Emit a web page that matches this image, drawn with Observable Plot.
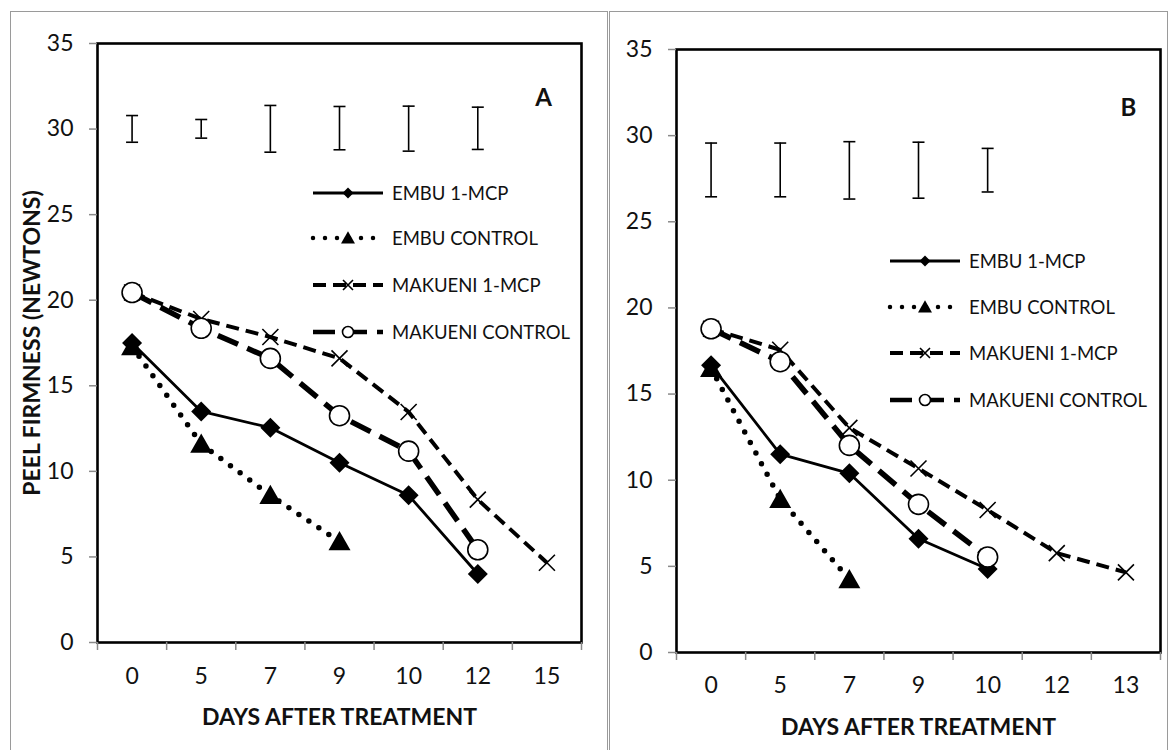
<!DOCTYPE html>
<html>
<head>
<meta charset="utf-8">
<script src="https://cdn.jsdelivr.net/npm/d3@7"></script>
<script src="https://cdn.jsdelivr.net/npm/@observablehq/plot@0.6"></script>
<style>
  html, body { margin: 0; padding: 0; background: #fff; }
  body { width: 1170px; height: 750px; position: relative; overflow: hidden; font-family: Lato, "Open Sans", sans-serif; }
  .box { position: absolute; top: 11px; height: 780px; border: 1.5px solid #9a9a9a; border-bottom: none; box-sizing: border-box; }
  .panel { position: absolute; top: 0; }
</style>
</head>
<body>
<div class="box" style="left:10px;width:598px"></div>
<div class="box" style="left:609px;width:559px"></div>
<div id="panelA" class="panel" style="left:0px"></div>
<div id="panelB" class="panel" style="left:600px"></div>
<script>
// ---------- data ----------
const seriesNames = ["EMBU 1-MCP", "EMBU CONTROL", "MAKUENI 1-MCP", "MAKUENI CONTROL"];
const yTicks = [0, 5, 10, 15, 20, 25, 30, 35];

// Panel A
const daysA = ["0", "5", "7", "9", "10", "12", "15"];
const embu1mcpA = [17.5, 13.5, 12.55, 10.5, 8.6, 4.0];
const embuControlA = [17.3, 11.6, 8.6, 5.9];
const makueni1mcpA = [20.45, 18.9, 17.85, 16.6, 13.47, 8.35, 4.66];
const makueniControlA = [20.45, 18.36, 16.6, 13.25, 11.18, 5.42];
const errLowA = [29.23, 29.47, 28.65, 28.79, 28.71, 28.81];
const errHighA = [30.79, 30.56, 31.38, 31.32, 31.34, 31.28];

// Panel B
const daysB = ["0", "5", "7", "9", "10", "12", "13"];
const embu1mcpB = [16.68, 11.51, 10.4, 6.6, 4.85];
const embuControlB = [16.5, 8.9, 4.24];
const makueni1mcpB = [18.79, 17.57, 13.04, 10.68, 8.27, 5.77, 4.65];
const makueniControlB = [18.79, 16.88, 12.02, 8.6, 5.54];
const errLowB = [26.45, 26.45, 26.32, 26.37, 26.73];
const errHighB = [29.57, 29.57, 29.65, 29.62, 29.26];

// ---------- symbols ----------
const diamondSym = {draw(ctx, size) { const r = Math.sqrt(size / Math.PI);
  ctx.moveTo(0, -r); ctx.lineTo(r, 0); ctx.lineTo(0, r); ctx.lineTo(-r, 0); ctx.closePath(); }};
const triangleSym = {draw(ctx, size) { const r = Math.sqrt(size / Math.PI);
  ctx.moveTo(0, -0.95 * r); ctx.lineTo(r, 0.8 * r); ctx.lineTo(-r, 0.8 * r); ctx.closePath(); }};
const timesSym = {draw(ctx, size) { const r = Math.sqrt(size / Math.PI);
  ctx.moveTo(-r, -r); ctx.lineTo(r, r); ctx.moveTo(r, -r); ctx.lineTo(-r, r); }};
const circleSym = {draw(ctx, size) { const r = Math.sqrt(size / Math.PI);
  ctx.moveTo(r, 0); ctx.arc(0, 0, r, 0, 2 * Math.PI); }};
const capSym = {draw(ctx, size) { const r = Math.sqrt(size / Math.PI);
  ctx.moveTo(-r, 0); ctx.lineTo(r, 0); }};

const styles = [
  {lineWidth: 2.8, dash: null, cap: "butt", symbol: diamondSym, r: 10, fill: "#000", stroke: "none", mStroke: 0, lr: 5.5},
  {lineWidth: 5.5, dash: "0 12", cap: "round", symbol: triangleSym, r: 11, fill: "#000", stroke: "none", mStroke: 0, lr: 7},
  {lineWidth: 4, dash: "13 7", cap: "butt", symbol: timesSym, r: 8, fill: "none", stroke: "#000", mStroke: 1.6, lr: 5},
  {lineWidth: 5.5, dash: "22 10", cap: "butt", symbol: circleSym, r: 10, fill: "#fff", stroke: "#000", mStroke: 1.6, lr: 5.5}
];

function rows(values) { return values.map((v, i) => ({i, v})); }

function panel(cfg) {
  const n = cfg.days.length;
  const series = cfg.series;
  const marks = [];
  // error bars
  const err = cfg.errLow.map((lo, i) => ({i, lo, hi: cfg.errHigh[i]}));
  marks.push(Plot.ruleX(err, {x: "i", y1: "lo", y2: "hi", stroke: "#000", strokeWidth: 1.6}));
  marks.push(Plot.dot(err, {x: "i", y: "lo", symbol: capSym, r: 6, stroke: "#000", strokeWidth: 1.6, fill: "none"}));
  marks.push(Plot.dot(err, {x: "i", y: "hi", symbol: capSym, r: 6, stroke: "#000", strokeWidth: 1.6, fill: "none"}));
  // series
  series.forEach((vals, k) => {
    const s = styles[k];
    const d = rows(vals);
    marks.push(Plot.line(d, {x: "i", y: "v", stroke: "#000", strokeWidth: s.lineWidth,
      strokeDasharray: s.dash, strokeLinecap: s.cap, strokeLinejoin: "round"}));
    marks.push(Plot.dot(d, {x: "i", y: "v", symbol: s.symbol, r: s.r, fill: s.fill,
      stroke: s.stroke, strokeWidth: s.mStroke}));
  });
  // frame, axes
  marks.push(Plot.frame({stroke: "#000", strokeWidth: 2.6}));
  marks.push(Plot.axisY(yTicks, {tickSize: 8, tickPadding: 16, stroke: "#8a8a8a", strokeWidth: 1.5,
    fontSize: 23, fill: "#111", label: null}));
  marks.push(Plot.axisX(d3.range(n + 1).map(i => i - 0.5), {tickSize: 8, stroke: "#8a8a8a", strokeWidth: 1.5,
    tickFormat: () => "", label: null}));
  marks.push(Plot.axisX(d3.range(n), {tickSize: 0, tickPadding: cfg.tickPad, tickFormat: i => cfg.days[i],
    fontSize: 23, fill: "#111", label: null}));
  marks.push(Plot.text(["DAYS AFTER TREATMENT"], {frameAnchor: "bottom", dy: cfg.titleDy, lineAnchor: "top",
    textAnchor: "middle", fontWeight: "bold", fontSize: 23, fill: "#111"}));
  if (cfg.yTitle) {
    marks.push(Plot.text([cfg.yTitle], {frameAnchor: "left", rotate: -90, dx: -65, textAnchor: "middle",
      lineAnchor: "middle", fontWeight: "bold", fontSize: 23, fill: "#111"}));
  }
  marks.push(Plot.text([cfg.tag], {frameAnchor: "top-right", dx: cfg.tagDx, dy: cfg.tagDy, textAnchor: "middle",
    lineAnchor: "middle", fontWeight: "bold", fontSize: 24, fill: "#111"}));

  const svg = Plot.plot({
    width: cfg.width, height: 750,
    marginLeft: cfg.ml, marginRight: cfg.mr, marginTop: cfg.mt, marginBottom: cfg.mb,
    x: {type: "linear", domain: [-0.5, n - 0.5], axis: null},
    y: {type: "linear", domain: [0, 35], axis: null},
    style: {fontFamily: "Lato, 'Open Sans', sans-serif", background: "transparent", overflow: "visible", color: "#000"},
    marks
  });

  // legend
  const g = d3.select(svg).append("g").attr("class", "legend").attr("text-anchor", "start");
  seriesNames.forEach((name, k) => {
    const s = styles[k];
    const y = cfg.legY[k];
    const x0 = cfg.legX, x1 = cfg.legX + 70, xm = (x0 + x1) / 2;
    g.append("line").attr("x1", x0).attr("x2", x1).attr("y1", y).attr("y2", y)
      .attr("stroke", "#000").attr("stroke-width", Math.min(s.lineWidth, 4.5))
      .attr("stroke-dasharray", s.dash).attr("stroke-linecap", s.cap);
    const p = d3.path(); s.symbol.draw(p, s.lr * s.lr * Math.PI);
    g.append("path").attr("d", p.toString()).attr("transform", `translate(${xm},${y})`)
      .attr("fill", s.fill).attr("stroke", s.stroke).attr("stroke-width", s.mStroke);
    g.append("text").attr("x", x1 + 9).attr("y", y).attr("dy", "0.36em").attr("text-anchor", "start")
      .attr("font-size", 18.5).attr("fill", "#111").text(name);
  });
  return svg;
}

document.getElementById("panelA").append(panel({
  days: daysA, series: [embu1mcpA, embuControlA, makueni1mcpA, makueniControlA],
  errLow: errLowA, errHigh: errHighA,
  width: 600, ml: 97, mr: 19, mt: 43, mb: 108, tickPad: 25, titleDy: 66,
  yTitle: "PEEL FIRMNESS (NEWTONS)", tag: "A", tagDx: -38, tagDy: 55,
  legX: 313, legY: [193, 238, 285, 332]
}));

document.getElementById("panelB").append(panel({
  days: daysB, series: [embu1mcpB, embuControlB, makueni1mcpB, makueniControlB],
  errLow: errLowB, errHigh: errHighB,
  width: 570, ml: 76, mr: 10, mt: 49, mb: 98, tickPad: 24, titleDy: 66,
  yTitle: null, tag: "B", tagDx: -32, tagDy: 59,
  legX: 290, legY: [261, 307, 353, 400]
}));
</script>
</body>
</html>
